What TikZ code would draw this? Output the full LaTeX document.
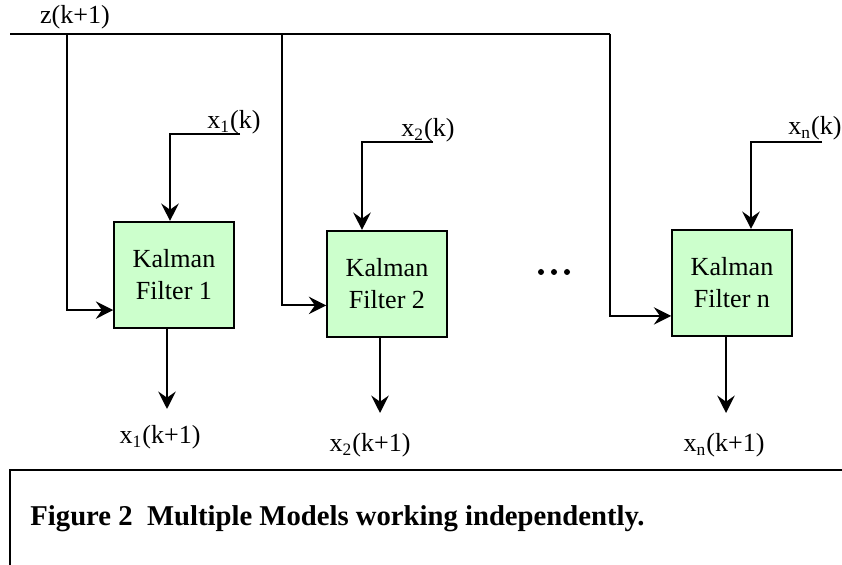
\documentclass[tikz,border=0pt]{standalone}
\usepackage{fontspec}
\setmainfont{Liberation Serif}
\usetikzlibrary{arrows.meta}

\definecolor{kfgreen}{RGB}{204,255,204}

\tikzset{
  kalman/.style={draw=black, fill=kfgreen, line width=0.9pt, inner sep=0pt,
    minimum width=55pt, minimum height=48.8pt, align=center,
    font=\fontsize{12}{14.7}\selectfont},
  wire/.style={line width=0.9pt},
  feed/.style={wire, -{Stealth[length=8pt,width=8pt,inset=2.8pt]}},
  lbl/.style={inner sep=0pt, font=\fontsize{12}{14}\selectfont},
}

\begin{document}
\begin{tikzpicture}[x=0.46pt,y=-0.46pt]
\useasboundingbox (0,0) rectangle (842,565);

% the filters
\node[kalman] (kf1) at (174,275) {Kalman\\Filter 1};
\node[kalman] (kf2) at (387,284) {Kalman\\Filter 2};
\node[kalman] (kfn) at (732,283) {Kalman\\Filter n};

% measurement bus
\coordinate (zl) at (10,34);
\coordinate (zr) at (610,34);
\node[lbl] (zlab) at (75,17) {z(k+1)};
\draw[wire] (zl) -- (zr);
\coordinate (d1) at (67,34);
\coordinate (d2) at (282,34);
\draw[feed] (d1) |- ([yshift=8.7pt]kf1.south west);
\draw[feed] (d2) |- ([yshift=15pt]kf2.south west);
\draw[feed] (zr) |- ([yshift=9.7pt]kfn.south west);

% previous states
\coordinate (s1) at (240,134);
\coordinate (c1) at (170,134);
\coordinate (s2) at (433,142);
\coordinate (c2) at (362,142);
\coordinate (sn) at (822,142);
\coordinate (cn) at (751,142);
\node[lbl] (x1k) at (234,122) {x\textsubscript{1}(k)};
\node[lbl] (x2k) at (428,130) {x\textsubscript{2}(k)};
\node[lbl] (xnk) at (815,128) {x\textsubscript{n}(k)};
\draw[feed] (s1) -- (c1) -- (c1 |- kf1.north);
\draw[feed] (s2) -- (c2) -- (c2 |- kf2.north);
\draw[feed] (sn) -- (cn) -- (cn |- kfn.north);

% estimates
\coordinate (o1) at (167,409);
\coordinate (o2) at (380,413);
\coordinate (on) at (726,413);
\draw[feed] (kf1.south -| o1) -- (o1);
\draw[feed] (kf2.south -| o2) -- (o2);
\draw[feed] (kfn.south -| on) -- (on);
\node[lbl] (x1n) at (160,437) {x\textsubscript{1}(k+1)};
\node[lbl] (x2n) at (370,445) {x\textsubscript{2}(k+1)};
\node[lbl] (xnn) at (724,445) {x\textsubscript{n}(k+1)};

% more filters
\foreach \x in {541,554,567}
  \fill (\x,272) circle (3);

% caption frame
\draw[wire] (842,470) -- (10,470) -- (10,565);
\node[inner sep=0pt, anchor=base west] (cap) at (30,526)
  {\fontsize{13.2}{15}\selectfont\bfseries Figure 2\ \ Multiple Models working independently.};
\end{tikzpicture}
\end{document}
